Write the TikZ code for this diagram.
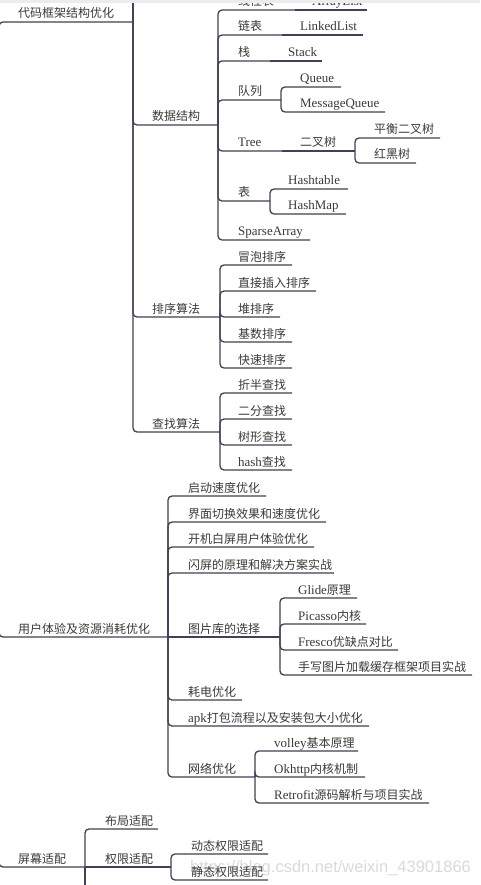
\documentclass[tikz,border=0pt]{standalone}
\usepackage{fontspec}
\setmainfont{Noto Sans CJK SC}
\newfontfamily\serifen{Liberation Serif}[Scale=1.08]
\newfontfamily\wmfont{Liberation Sans}
\newcommand\en[1]{{\serifen #1}}
\definecolor{ink}{RGB}{58,58,58}
\definecolor{branch}{RGB}{62,66,84}
\definecolor{wmark}{RGB}{218,218,218}
\definecolor{topbar}{RGB}{236,236,236}
\tikzset{
  lbl/.style={anchor=base west,inner sep=0pt,text=ink,font=\fontsize{12}{14}\selectfont},
  ln/.style={draw=branch,line width=1.3pt,rounded corners=4pt},
}

\begin{document}
\begin{tikzpicture}[x=1pt,y=-1pt]
  \clip (0,0) rectangle (480,885);
  \fill[white] (0,0) rectangle (480,885);
  \node[anchor=base west,inner sep=0pt,text=wmark,font=\wmfont\fontsize{16.5}{17}\selectfont]
    (wmk) at (190,872) {https://blog.csdn.net/weixin\_43901866};
  \coordinate (root) at (-1,450);

  % 代码框架结构优化
  \node[lbl] (code) at (18,18) {代码框架结构优化};
  \coordinate (code-e) at (133,22);
  \coordinate (code-up) at (133,-30);
  \draw[ln] (root) |- (code-e);
  \draw[ln] (code-e) -- (code-up);

  % 数据结构
  \node[lbl] (ds) at (152,121) {数据结构};
  \coordinate (ds-e) at (218,125);
  \draw[ln] (code-e) |- (ds-e);

  \node[lbl] (lin) at (238,6) {线性表};
  \node[lbl] (arr) at (312,6) {\en{ArrayList}};
  \coordinate (lin-e) at (295,10);
  \coordinate (arr-e) at (367,10);
  \draw[ln] (ds-e) |- (lin-e);
  \draw[ln] (lin-e) -- (arr-e);

  \node[lbl] (lnk) at (238,31) {链表};
  \node[lbl] (lnkl) at (300,31) {\en{LinkedList}};
  \coordinate (lnk-e) at (282,35);
  \coordinate (lnkl-e) at (363,35);
  \draw[ln] (ds-e) |- (lnk-e);
  \draw[ln] (lnk-e) -- (lnkl-e);

  \node[lbl] (stk) at (238,57) {栈};
  \node[lbl] (stkc) at (288,57) {\en{Stack}};
  \coordinate (stk-e) at (270,61);
  \coordinate (stkc-e) at (322,61);
  \draw[ln] (ds-e) |- (stk-e);
  \draw[ln] (stk-e) -- (stkc-e);

  \node[lbl] (que) at (238,96) {队列};
  \coordinate (que-e) at (281,100);
  \draw[ln] (ds-e) |- (que-e);
  \foreach \n/\y/\e/\t in {q1/87/341/Queue, q2/112/385/MessageQueue}{
    \node[lbl] (\n) at (300,\y-4) {\en{\t}};
    \coordinate (\n-e) at (\e,\y);
    \draw[ln] (que-e) |- (\n-e);
  }

  \node[lbl] (tree) at (238,147) {\en{Tree}};
  \node[lbl] (bt) at (300,147) {二叉树};
  \coordinate (tree-e) at (282,151);
  \coordinate (bt-e) at (355,151);
  \draw[ln] (ds-e) |- (tree-e);
  \draw[ln] (tree-e) -- (bt-e);
  \foreach \n/\y/\e/\t in {avl/138/440/平衡二叉树, rb/163/416/红黑树}{
    \node[lbl] (\n) at (374,\y-4) {\t};
    \coordinate (\n-e) at (\e,\y);
    \draw[ln] (bt-e) |- (\n-e);
  }

  \node[lbl] (tbl) at (238,197) {表};
  \coordinate (tbl-e) at (270,201);
  \draw[ln] (ds-e) |- (tbl-e);
  \foreach \n/\y/\e/\t in {ht/189/348/Hashtable, hm/214/346/HashMap}{
    \node[lbl] (\n) at (288,\y-4) {\en{\t}};
    \coordinate (\n-e) at (\e,\y);
    \draw[ln] (tbl-e) |- (\n-e);
  }

  \node[lbl] (spa) at (238,236) {\en{SparseArray}};
  \coordinate (spa-e) at (310,240);
  \draw[ln] (ds-e) |- (spa-e);

  % 排序算法
  \node[lbl] (sort) at (152,313) {排序算法};
  \coordinate (sort-e) at (220,317);
  \draw[ln] (code-e) |- (sort-e);
  \foreach \n/\y/\e/\t in {s1/265/292/冒泡排序, s2/291/316/直接插入排序, s3/317/280/堆排序,
      s4/342/292/基数排序, s5/368/292/快速排序}{
    \node[lbl] (\n) at (238,\y-4) {\t};
    \coordinate (\n-e) at (\e,\y);
    \draw[ln] (sort-e) |- (\n-e);
  }

  % 查找算法
  \node[lbl] (srch) at (152,428) {查找算法};
  \coordinate (srch-e) at (220,432);
  \draw[ln] (code-e) |- (srch-e);
  \foreach \n/\y/\e/\t in {f1/393/292/折半查找, f2/419/292/二分查找, f3/445/292/树形查找,
      f4/470/292/\en{hash}查找}{
    \node[lbl] (\n) at (238,\y-4) {\t};
    \coordinate (\n-e) at (\e,\y);
    \draw[ln] (srch-e) |- (\n-e);
  }

  % 用户体验及资源消耗优化
  \node[lbl] (ux) at (18,633) {用户体验及资源消耗优化};
  \coordinate (ux-e) at (168,637);
  \draw[ln] (root) |- (ux-e);
  \foreach \n/\y/\e/\t in {u1/496/266/启动速度优化, u2/522/326/界面切换效果和速度优化,
      u3/547/314/开机白屏用户体验优化, u4/573/334/闪屏的原理和解决方案实战,
      u6/700/242/耗电优化, u7/726/369/\en{apk}打包流程以及安装包大小优化}{
    \node[lbl] (\n) at (188,\y-4) {\t};
    \coordinate (\n-e) at (\e,\y);
    \draw[ln] (ux-e) |- (\n-e);
  }

  \node[lbl] (img) at (188,633) {图片库的选择};
  \coordinate (img-e) at (280,637);
  \draw[ln] (ux-e) -- (img-e);
  \foreach \n/\y/\e/\t in {i1/598/357/\en{Glide}原理, i2/624/366/\en{Picasso}内核,
      i3/650/398/\en{Fresco}优缺点对比, i4/675/472/手写图片加载缓存框架项目实战}{
    \node[lbl] (\n) at (298,\y-4) {\t};
    \coordinate (\n-e) at (\e,\y);
    \draw[ln] (img-e) |- (\n-e);
  }

  \node[lbl] (net) at (188,773) {网络优化};
  \coordinate (net-e) at (255,777);
  \draw[ln] (ux-e) |- (net-e);
  \foreach \n/\y/\e/\t in {n1/751/358/\en{volley}基本原理, n2/777/365/\en{Okhttp}内核机制,
      n3/803/429/\en{Retrofit}源码解析与项目实战}{
    \node[lbl] (\n) at (274,\y-4) {\t};
    \coordinate (\n-e) at (\e,\y);
    \draw[ln] (net-e) |- (\n-e);
  }

  % 屏幕适配
  \node[lbl] (scr) at (18,863) {屏幕适配};
  \coordinate (scr-e) at (85,867);
  \coordinate (scr-dn) at (85,930);
  \draw[ln] (root) |- (scr-e);
  \draw[ln] (scr-e) -- (scr-dn);

  \node[lbl] (lay) at (105,825) {布局适配};
  \coordinate (lay-e) at (158,829);
  \draw[ln] (scr-e) |- (lay-e);

  \node[lbl] (perm) at (105,863) {权限适配};
  \coordinate (perm-e) at (171,867);
  \draw[ln] (scr-e) -- (perm-e);
  \foreach \n/\y/\t in {p1/854/动态权限适配, p2/880/静态权限适配}{
    \node[lbl] (\n) at (191,\y-4) {\t};
    \coordinate (\n-e) at (268,\y);
    \draw[ln] (perm-e) |- (\n-e);
  }

  \fill[topbar] (0,0) rectangle (480,3);
\end{tikzpicture}
\end{document}
